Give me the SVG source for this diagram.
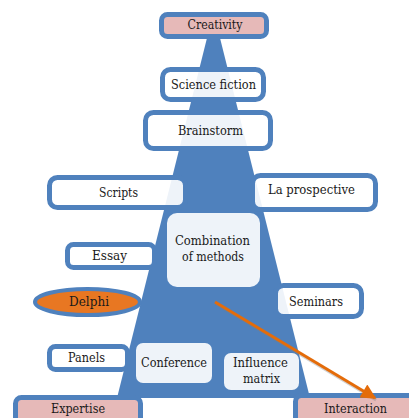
<svg xmlns="http://www.w3.org/2000/svg" width="409" height="418" viewBox="0 0 409 418">
  <style>
    .box { fill: #ffffff; fill-opacity: 0.9; stroke: #4f81bd; stroke-width: 5; }
    .pink { fill: #e6b9b8; stroke: #4f81bd; stroke-width: 5; }
    .inner { fill: #ffffff; fill-opacity: 0.9; stroke: none; }
    text { font-family: 'DejaVu Serif', 'Liberation Serif', serif; font-size: 12.5px; fill: #1a1a1a; text-anchor: middle; }
  </style>
  <defs>
    <marker id="ah" viewBox="0 0 10 10" refX="9" refY="5" markerWidth="6" markerHeight="5" orient="auto" markerUnits="strokeWidth">
      <path d="M0,0 L10,5 L0,10 z" fill="#e46c0a"/>
    </marker>
  </defs>
  <rect width="409" height="418" fill="#ffffff"/>
  <polygon id="pyramid" points="213.5,12 310,398 117,398" fill="#4f81bd"/>

  <g id="creativity"><rect class="pink" x="161.5" y="14.5" width="105" height="22" rx="6"/><text x="215" y="29" textLength="55" lengthAdjust="spacingAndGlyphs">Creativity</text></g>
  <g id="science-fiction"><rect class="box" x="162.5" y="69.5" width="101" height="30" rx="8"/><text x="213.5" y="89" textLength="85" lengthAdjust="spacingAndGlyphs">Science fiction</text></g>
  <g id="brainstorm"><rect class="box" x="145.5" y="112.5" width="125" height="36" rx="8"/><text x="210.5" y="135" textLength="65" lengthAdjust="spacingAndGlyphs">Brainstorm</text></g>
  <g id="scripts"><rect class="box" x="49.5" y="177.5" width="136" height="30" rx="8"/><text x="118.5" y="197" textLength="39" lengthAdjust="spacingAndGlyphs">Scripts</text></g>
  <g id="la-prospective"><rect class="box" x="252.5" y="175.5" width="123" height="34" rx="8"/><text x="311.5" y="194" textLength="87" lengthAdjust="spacingAndGlyphs">La prospective</text></g>
  <g id="combination"><rect class="inner" x="167" y="213" width="93" height="74" rx="10"/><text x="212.5" y="245" textLength="75" lengthAdjust="spacingAndGlyphs">Combination</text><text x="213" y="261" textLength="62" lengthAdjust="spacingAndGlyphs">of methods</text></g>
  <g id="essay"><rect class="box" x="67.5" y="244.5" width="87" height="23" rx="6"/><text x="109.5" y="260" textLength="35" lengthAdjust="spacingAndGlyphs">Essay</text></g>
  <g id="delphi"><ellipse cx="87.5" cy="302" rx="52.5" ry="13" fill="#e87722" stroke="#4f81bd" stroke-width="4"/><text x="89" y="306" textLength="40" lengthAdjust="spacingAndGlyphs">Delphi</text></g>
  <g id="seminars"><rect class="box" x="275.5" y="285.5" width="86" height="31" rx="8"/><text x="316" y="306" textLength="54" lengthAdjust="spacingAndGlyphs">Seminars</text></g>
  <g id="panels"><rect class="box" x="49.5" y="346.5" width="78" height="23" rx="6"/><text x="86.5" y="362" textLength="37" lengthAdjust="spacingAndGlyphs">Panels</text></g>
  <g id="conference"><rect class="inner" x="136" y="343" width="76" height="40" rx="7"/><text x="174" y="367" textLength="66" lengthAdjust="spacingAndGlyphs">Conference</text></g>
  <g id="influence-matrix"><rect class="inner" x="224" y="353" width="75" height="37" rx="7"/><text x="260.5" y="367" textLength="55" lengthAdjust="spacingAndGlyphs">Influence</text><text x="261.5" y="383" textLength="37" lengthAdjust="spacingAndGlyphs">matrix</text></g>
  <g id="expertise"><rect class="pink" x="15.5" y="397.5" width="125" height="30" rx="6"/><text x="78" y="413" textLength="54" lengthAdjust="spacingAndGlyphs">Expertise</text></g>
  <g id="interaction"><rect class="pink" x="295.5" y="395.5" width="125" height="30" rx="6"/><text x="355.5" y="413" textLength="63" lengthAdjust="spacingAndGlyphs">Interaction</text></g>

  <g id="connectors">
    <line x1="216" y1="304" x2="376" y2="400" stroke="#7f7f7f" stroke-opacity="0.35" stroke-width="3"/>
    <line x1="215" y1="302" x2="375" y2="398" stroke="#e46c0a" stroke-width="3" marker-end="url(#ah)"/>
  </g>
</svg>
